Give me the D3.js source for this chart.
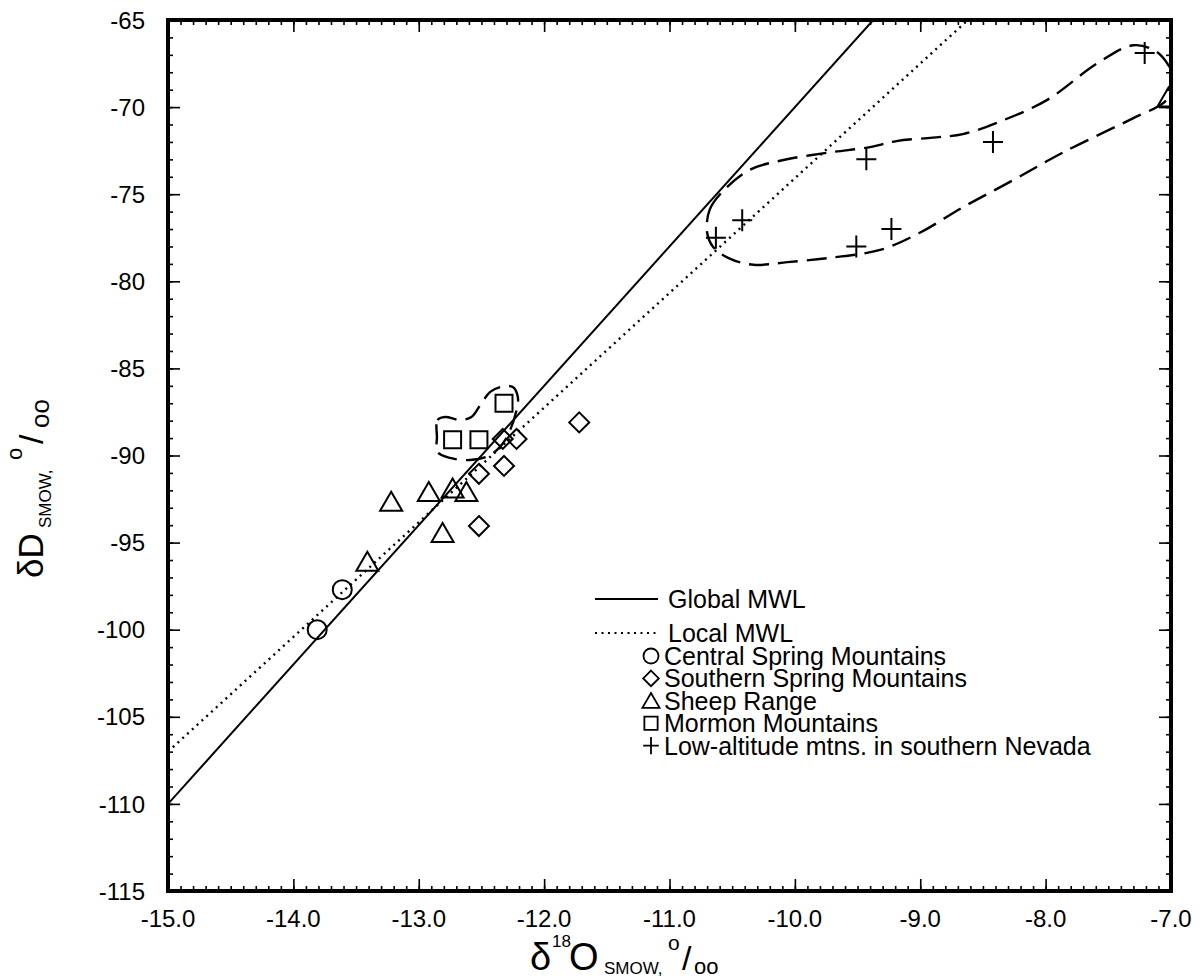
<!DOCTYPE html>
<html>
<head>
<meta charset="utf-8">
<script src="https://cdn.jsdelivr.net/npm/d3@7"></script>
<style>
  body { margin: 0; background: #fff; }
  text { font-family: "Liberation Sans", Arial, Helvetica, sans-serif; fill: #000; }
</style>
</head>
<body>
<svg id="chart"></svg>
<script>
// ---- data (d18O, dD) ----
var centralSpring = [[-13.81, -100.0], [-13.61, -97.7]];
var southernSpring = [[-12.33, -89.05], [-12.22, -89.05], [-12.32, -90.6], [-12.52, -91.05], [-11.72, -88.1], [-12.52, -94.05]];
var sheepRange = [[-13.22, -92.65], [-12.92, -92.1], [-12.73, -91.9], [-12.62, -92.1], [-12.81, -94.45], [-13.41, -96.1], [-7.02, -69.45]];
var mormonMtns = [[-12.73, -89.1], [-12.52, -89.1], [-12.32, -87.0]];
var lowAltitude = [[-7.21, -66.9], [-8.42, -72.0], [-9.43, -73.0], [-10.42, -76.5], [-10.63, -77.5], [-9.23, -77.0], [-9.51, -78.0]];

var globalMWL = [[-15, -110], [-9.375, -65]];
var localMWL = [[-15, -107], [-8.62, -65]];

// hand drawn dashed outlines
var lowAltOutline = [[-10.70, -77.2], [-10.68, -75.9], [-10.57, -74.8], [-10.36, -73.6], [-10.10, -73.05], [-9.72, -72.6],
    [-9.40, -72.3], [-9.19, -71.95], [-8.90, -71.75], [-8.66, -71.55], [-8.39, -70.9], [-7.99, -69.6], [-7.59, -67.5],
    [-7.30, -66.45], [-7.12, -66.8], [-7.02, -67.6], [-6.96, -68.7], [-7.05, -69.7], [-7.30, -70.63], [-7.86, -72.6],
    [-8.26, -74.2], [-8.66, -75.75], [-9.00, -77.2], [-9.32, -78.2], [-9.72, -78.65], [-10.06, -78.9], [-10.33, -79.05],
    [-10.52, -78.7], [-10.65, -78.05]];
var mormonOutline = [[-12.855, -88.94], [-12.85, -87.96], [-12.79, -87.79], [-12.67, -87.96], [-12.58, -87.79], [-12.50, -86.99],
    [-12.43, -86.35], [-12.35, -86.07], [-12.25, -86.07], [-12.21, -86.64], [-12.22, -87.4], [-12.31, -89.1],
    [-12.43, -89.97], [-12.59, -90.26], [-12.75, -90.14], [-12.85, -89.8]];

var xMajor = [-15, -14, -13, -12, -11, -10, -9, -8, -7];
var xLabels = ["-15.0", "-14.0", "-13.0", "-12.0", "-11.0", "-10.0", "-9.0", "-8.0", "-7.0"];
var yMajor = [-115, -110, -105, -100, -95, -90, -85, -80, -75, -70, -65];
var yLabels = ["-115", "-110", "-105", "-100", "-95", "-90", "-85", "-80", "-75", "-70", "-65"];

var lineNames = ["Global MWL", "Local MWL"];
var seriesNames = ["Central Spring Mountains", "Southern Spring Mountains", "Sheep Range", "Mormon Mountains", "Low-altitude mtns. in southern Nevada"];

// ---- layout ----
var width = 1204, height = 978;
var plotLeft = 168, plotRight = 1171, plotTop = 20, plotBottom = 891;

var svg = d3.select("#chart").attr("width", width).attr("height", height);

var x = d3.scaleLinear().domain([-15, -7]).range([plotLeft, plotRight]);
var y = d3.scaleLinear().domain([-115, -65]).range([plotBottom, plotTop]);

svg.append("clipPath").attr("id", "plotclip")
    .append("rect").attr("x", plotLeft).attr("y", plotTop)
    .attr("width", plotRight - plotLeft).attr("height", plotBottom - plotTop);

// marker shapes
function shape(kind, s) {
    if (kind == "circle") return "M" + s + ",0A" + s + "," + s + " 0 1,1 " + (-s) + ",0A" + s + "," + s + " 0 1,1 " + s + ",0Z";
    if (kind == "diamond") return "M0," + (-s) + "L" + s + ",0L0," + s + "L" + (-s) + ",0Z";
    if (kind == "triangle") return "M0," + (-s) + "L" + (s * 1.1) + "," + (s * 0.9) + "L" + (-s * 1.1) + "," + (s * 0.9) + "Z";
    if (kind == "square") return "M" + (-s * 0.85) + "," + (-s * 0.85) + "h" + (s * 1.7) + "v" + (s * 1.7) + "h" + (-s * 1.7) + "Z";
    if (kind == "cross") return "M" + (-s) + ",0H" + s + "M0," + (-s * 1.1) + "V" + (s * 1.1);
}

var plot = svg.append("g").attr("clip-path", "url(#plotclip)");

var line = d3.line().x(function (d) { return x(d[0]); }).y(function (d) { return y(d[1]); });
var outline = d3.line().x(function (d) { return x(d[0]); }).y(function (d) { return y(d[1]); })
    .curve(d3.curveCatmullRomClosed.alpha(0.5));

plot.append("path").datum(globalMWL).attr("d", line)
    .attr("fill", "none").attr("stroke", "#000").attr("stroke-width", 2);
plot.append("path").datum(localMWL).attr("d", line)
    .attr("fill", "none").attr("stroke", "#000").attr("stroke-width", 2.4)
    .attr("stroke-dasharray", "2,4.5");

plot.selectAll("path.outline")
    .data([lowAltOutline, mormonOutline])
    .enter().append("path")
    .attr("class", "outline")
    .attr("d", outline)
    .attr("fill", "none").attr("stroke", "#000").attr("stroke-width", 2.4)
    .attr("stroke-dasharray", "20,9");

var series = [
    { kind: "circle", data: centralSpring },
    { kind: "diamond", data: southernSpring },
    { kind: "triangle", data: sheepRange },
    { kind: "square", data: mormonMtns },
    { kind: "cross", data: lowAltitude }
];

series.forEach(function (s) {
    plot.selectAll(null)
        .data(s.data)
        .enter().append("path")
        .attr("d", shape(s.kind, s.kind == "circle" ? 9.5 : 10))
        .attr("transform", function (d) { return "translate(" + x(d[0]) + "," + y(d[1]) + ")"; })
        .attr("fill", "none").attr("stroke", "#000").attr("stroke-width", 2);
});

// ---- axes, ticks on all four sides, pointing inward ----
var xMinor = d3.range(-150, -69).map(function (v) { return v / 10; });
var yMinor = d3.range(-115, -64);

function ticks(axis, size, values) {
    return axis.tickValues(values).tickSize(size).tickFormat("");
}
var axes = svg.append("g").attr("class", "axes");
axes.append("g").attr("transform", "translate(0," + plotBottom + ")").call(ticks(d3.axisBottom(x), -5, xMinor));
axes.append("g").attr("transform", "translate(0," + plotBottom + ")").call(ticks(d3.axisBottom(x), -12, xMajor));
axes.append("g").attr("transform", "translate(0," + plotTop + ")").call(ticks(d3.axisTop(x), -5, xMinor));
axes.append("g").attr("transform", "translate(0," + plotTop + ")").call(ticks(d3.axisTop(x), -12, xMajor));
axes.append("g").attr("transform", "translate(" + plotLeft + ",0)").call(ticks(d3.axisLeft(y), -5, yMinor));
axes.append("g").attr("transform", "translate(" + plotLeft + ",0)").call(ticks(d3.axisLeft(y), -12, yMajor));
axes.append("g").attr("transform", "translate(" + plotRight + ",0)").call(ticks(d3.axisRight(y), -5, yMinor));
axes.append("g").attr("transform", "translate(" + plotRight + ",0)").call(ticks(d3.axisRight(y), -12, yMajor));
axes.selectAll(".domain").remove();
axes.selectAll(".tick line").attr("stroke", "#000").attr("stroke-width", 1.6);

svg.append("rect")
    .attr("x", plotLeft).attr("y", plotTop)
    .attr("width", plotRight - plotLeft).attr("height", plotBottom - plotTop)
    .attr("fill", "none").attr("stroke", "#000").attr("stroke-width", 4);

svg.selectAll("text.xlab")
    .data(xMajor)
    .enter().append("text")
    .attr("class", "xlab")
    .attr("x", function (d) { return x(d); })
    .attr("y", plotBottom + 36)
    .attr("text-anchor", "middle")
    .style("font-size", "24px")
    .text(function (d, i) { return xLabels[i]; });

svg.selectAll("text.ylab")
    .data(yMajor)
    .enter().append("text")
    .attr("class", "ylab")
    .attr("x", plotLeft - 23)
    .attr("y", function (d) { return y(d); })
    .attr("dy", "0.36em")
    .attr("text-anchor", "end")
    .style("font-size", "24px")
    .text(function (d, i) { return yLabels[i]; });

// axis titles: delta 18-O SMOW, per mil
var xt = svg.append("text").attr("y", 970).style("font-size", "38px");
xt.append("tspan").attr("x", 530).attr("y", 970).text("δ");
xt.append("tspan").attr("x", 552).attr("y", 947).style("font-size", "17px").text("18");
xt.append("tspan").attr("x", 569).attr("y", 970).text("O");
xt.append("tspan").attr("x", 604).attr("y", 974).style("font-size", "17px").text("SMOW,");
xt.append("tspan").attr("x", 668).attr("y", 950).style("font-size", "21px").text("o");
xt.append("tspan").attr("x", 682).attr("y", 970).style("font-size", "34px").text("/");
xt.append("tspan").attr("x", 694).attr("y", 974).style("font-size", "22px").text("oo");

var yt = svg.append("text").attr("transform", "translate(43,578) rotate(-90)").style("font-size", "35px");
yt.append("tspan").attr("x", 0).attr("y", 0).text("δD");
yt.append("tspan").attr("x", 50).attr("y", 8).style("font-size", "17px").text("SMOW,");
yt.append("tspan").attr("x", 118).attr("y", -21).style("font-size", "22px").text("o");
yt.append("tspan").attr("x", 134).attr("y", 0).style("font-size", "34px").text("/");
yt.append("tspan").attr("x", 150).attr("y", 6).style("font-size", "26px").text("oo");

// ---- legend ----
var legend = svg.append("g");
var lineRows = [{ y: 599, dash: null }, { y: 633, dash: "2,4.5" }];
lineRows.forEach(function (r, i) {
    legend.append("line").attr("x1", 595).attr("x2", 658).attr("y1", r.y).attr("y2", r.y)
        .attr("stroke", "#000").attr("stroke-width", 2).attr("stroke-dasharray", r.dash);
    legend.append("text").attr("x", 668).attr("y", r.y + 9).style("font-size", "25px").text(lineNames[i]);
});
series.forEach(function (s, i) {
    var cy = 656 + i * 22.4;
    legend.append("path").attr("d", shape(s.kind, s.kind == "circle" ? 7.5 : 7.8))
        .attr("transform", "translate(651," + cy + ")")
        .attr("fill", "none").attr("stroke", "#000").attr("stroke-width", 1.8);
    legend.append("text").attr("x", 664).attr("y", cy + 9).style("font-size", "25px").text(seriesNames[i]);
});
</script>
</body>
</html>
